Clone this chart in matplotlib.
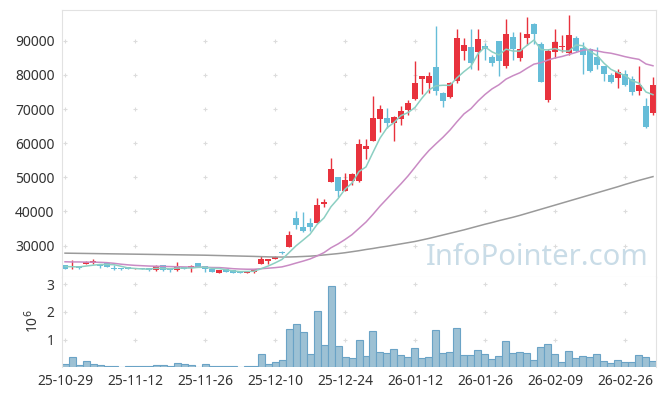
import numpy as np
import matplotlib
matplotlib.use("Agg")
import matplotlib.pyplot as plt

plt.rcParams['font.family'] = ['Noto Sans', 'DejaVu Sans']

# daily prices (85 trading days, 25-10-29 .. 26-03-05)
opens = [24200, 23800, 23900, 24650, 24850, 24650, 24850, 23300, 23300, 23650,
         23100, 23400, 23450, 22800, 24200, 23200, 22800, 23750, 23300, 24850,
         24060, 23200, 22100, 23000, 22800, 22600, 22100, 22400, 24640, 25400,
         26200, 28200, 29700, 38050, 35300, 36600, 36730, 42250, 48700, 50000,
         46100, 48900, 48900, 58350, 60700, 67200, 67400, 66000, 67000, 69700,
         72900, 78800, 77700, 82200, 74600, 73600, 78300, 87100, 88100, 86800,
         88450, 85300, 90000, 82700, 91200, 84850, 90900, 94900, 89050, 72650,
         86800, 88300, 86500, 90800, 87950, 87500, 85300, 82600, 79950, 79000,
         80250, 78700, 75400, 71000, 68950]
highs = [24300, 25800, 24000, 25400, 26200, 24700, 24900, 24400, 23400, 23700,
         23450, 23450, 23500, 24350, 24400, 23300, 25100, 23800, 24350, 25000,
         24100, 23250, 22950, 23050, 22850, 22650, 22600, 23200, 26990, 26100,
         27000, 28300, 34200, 40000, 39800, 38000, 44000, 43600, 55600, 50100,
         51200, 51200, 61300, 61150, 73800, 71200, 70200, 68000, 70800, 72500,
         84000, 79700, 80900, 94400, 75000, 77900, 93400, 90900, 93300, 93300,
         89200, 85800, 90000, 96250, 92650, 92650, 97000, 95100, 89700, 87500,
         93350, 91600, 97450, 91300, 89700, 87900, 88100, 82700, 80450, 81650,
         81400, 79700, 82600, 73150, 79300]
lows = [23000, 23100, 23200, 24600, 24550, 23560, 23800, 22700, 22850, 23050,
        23050, 23050, 22600, 22600, 22600, 22300, 22600, 23050, 22200, 23700,
        22200, 22350, 22050, 22350, 22050, 22050, 22050, 21900, 24600, 24700,
        26100, 27600, 29600, 35000, 34100, 34300, 36700, 41300, 48600, 44300,
        46000, 47750, 48650, 55300, 60500, 63200, 64400, 60500, 65400, 68300,
        72500, 74350, 74700, 74100, 70700, 73300, 77700, 84350, 81600, 81400,
        84350, 82600, 79750, 81900, 84350, 84150, 88750, 89150, 78000, 72150,
        84850, 86800, 85800, 86700, 80150, 80800, 81650, 78350, 77700, 76100,
        76700, 74150, 74100, 64350, 68250]
closes = [23100, 23950, 23300, 25300, 25600, 24150, 23850, 23100, 23000, 23100,
          23400, 23100, 22950, 24150, 22900, 22800, 24150, 23100, 24150, 23850,
          23100, 22400, 22900, 22400, 22100, 22100, 22550, 23180, 26100, 26000,
          26700, 27700, 33130, 36060, 34350, 35300, 41900, 42900, 52450, 46050,
          49200, 50950, 59800, 59200, 67400, 70000, 66000, 67600, 69400, 71700,
          77650, 79650, 79650, 75400, 72450, 77500, 90700, 88750, 83400, 90400,
          87650, 83550, 84150, 91950, 87600, 87600, 91950, 91950, 78000, 87000,
          89650, 88500, 91700, 87000, 85800, 81150, 82900, 80250, 78000, 80950,
          77050, 75100, 76950, 64850, 77050]
# volume in millions of shares
volumes = [0.11, 0.36, 0.085, 0.22, 0.11, 0.07, 0.04, 0.04, 0.01, 0.04,
           0.04, 0.04, 0.04, 0.07, 0.07, 0.04, 0.15, 0.11, 0.07, 0.01,
           0.11, 0.04, 0.04, 0.04, 0.04, 0.01, 0.04, 0.04, 0.47, 0.11,
           0.19, 0.27, 1.39, 1.57, 1.28, 0.47, 2.04, 0.80, 2.95, 0.77,
           0.36, 0.33, 0.98, 0.40, 1.31, 0.55, 0.51, 0.66, 0.44, 0.36,
           0.69, 0.33, 0.36, 1.35, 0.51, 0.55, 1.42, 0.44, 0.44, 0.62,
           0.47, 0.29, 0.40, 0.95, 0.51, 0.55, 0.51, 0.26, 0.73, 0.84,
           0.47, 0.18, 0.58, 0.33, 0.40, 0.36, 0.47, 0.22, 0.15, 0.26,
           0.18, 0.18, 0.44, 0.36, 0.22]
ma5 = [23850, 23800, 23750, 24000, 24250, 24460, 24440, 24400, 23940, 23440,
       23290, 23140, 23110, 23340, 23300, 23180, 23390, 23420, 23420, 23610,
       23670, 23320, 23280, 22930, 22580, 22380, 22410, 22470, 23210, 23990,
       24910, 25940, 27930, 29920, 31590, 33310, 36150, 38100, 41380, 43720,
       46500, 48310, 51690, 53040, 57310, 61470, 64480, 66040, 68080, 68940,
       70470, 73200, 75610, 76810, 76960, 76930, 79140, 80960, 82560, 86150,
       88180, 86750, 85830, 87540, 86980, 86970, 88650, 90210, 87420, 87300,
       87710, 87020, 86970, 88770, 88530, 86830, 85710, 83420, 81620, 80650,
       79830, 78270, 77610, 74980, 74200]
ma20 = [25250, 25200, 25200, 25150, 25150, 25100, 25000, 24800, 24550, 24350,
        24200, 24100, 24000, 23950, 23900, 23850, 23800, 23750, 23700, 23650,
        23650, 23570, 23550, 23410, 23230, 23130, 23070, 23070, 23220, 23370,
        23530, 23760, 24270, 24870, 25440, 26070, 26950, 27940, 29360, 30470,
        31770, 33200, 35050, 36890, 39150, 41550, 43720, 45940, 48100, 50390,
        52940, 55530, 57860, 59830, 61730, 63840, 66280, 68570, 70120, 72340,
        74260, 75890, 77110, 78750, 79760, 80640, 81940, 83150, 83580, 84350,
        84950, 85390, 85990, 86570, 87240, 87420, 87030, 86610, 86340, 85870,
        85340, 84910, 84550, 83200, 82670]
ma120 = [27780, 27750, 27720, 27690, 27660, 27630, 27600, 27570, 27540, 27510,
         27480, 27450, 27420, 27390, 27360, 27330, 27300, 27270, 27240, 27210,
         27180, 27130, 27080, 27030, 26980, 26930, 26880, 26830, 26760, 26700,
         26650, 26640, 26660, 26720, 26800, 26900, 27050, 27250, 27450, 27650,
         27900, 28200, 28500, 28850, 29150, 29500, 29800, 30150, 30500, 30850,
         31200, 31650, 32100, 32600, 33100, 33600, 34100, 34600, 35150, 35700,
         36250, 36750, 37300, 37800, 38300, 38850, 39450, 40050, 40650, 41250,
         41850, 42450, 43050, 43650, 44250, 44850, 45450, 46050, 46650, 47250,
         47900, 48500, 49100, 49650, 50200]
tick_labels = ['25-10-29', '25-11-12', '25-11-26', '25-12-10', '25-12-24',
               '26-01-12', '26-01-26', '26-02-09', '26-02-26']
price_ticks = [30000, 40000, 50000, 60000, 70000, 80000, 90000]
vol_ticks = [1, 2, 3]

RED = '#e8323d'
BLUE = '#66bdd8'
SPINE = '#e2e2e2'
GRID = '#dcdcdc'
TXT = '#333333'

fig = plt.figure(figsize=(6.65, 3.96), dpi=100)
ax = fig.add_axes([0.0925, 0.2997, 0.8947, 0.675])
axv = fig.add_axes([0.0925, 0.0725, 0.8947, 0.2272])

x = np.arange(len(closes))
o = np.array(opens)
c = np.array(closes)
colors = np.where(c >= o, RED, BLUE)

ax.text(0.986, 0.046, 'InfoPointer.com', transform=ax.transAxes, ha='right', va='baseline',
        fontsize=21, color='#c9dce7', zorder=0)

ax.vlines(x, lows, highs, colors=colors, linewidth=1.0, zorder=2)
ax.bar(x, np.maximum(np.abs(c - o), 300), bottom=np.minimum(o, c), width=0.72,
       color=colors, linewidth=0, zorder=2)

ax.plot(x, ma120, color='#9a9a9a', linewidth=1.1, zorder=3)
ax.plot(x, ma20, color='#c98bc4', linewidth=1.1, zorder=3)
ax.plot(x, ma5, color='#8ccfc2', linewidth=1.1, zorder=3)

# faint "+" marks where grid lines would cross
xt = np.arange(0, len(closes), 10)
gx, gy = np.meshgrid(xt, price_ticks)
ax.plot(gx.ravel(), gy.ravel(), '+', color=GRID, markersize=3.5, mew=0.8, zorder=1)

ax.set_xlim(-0.5, len(closes) - 0.5)
ax.set_ylim(20700, 99000)
ax.set_xticks([])
ax.set_yticks(price_ticks)
ax.set_yticklabels([str(v) for v in price_ticks])
ax.tick_params(axis='y', length=0, pad=5, labelsize=10, labelcolor=TXT)
for s in ax.spines.values():
    s.set_color(SPINE)

axv.bar(x, volumes, width=1.0, color='#9dc1d4', edgecolor='#6aa3c6', linewidth=0.8, zorder=2)
gx, gy = np.meshgrid(xt, vol_ticks)
axv.plot(gx.ravel(), gy.ravel(), '+', color=GRID, markersize=3.5, mew=0.8, zorder=1)
axv.set_xlim(-0.5, len(closes) - 0.5)
axv.set_ylim(0, 3.25)
axv.set_yticks(vol_ticks)
axv.set_yticklabels([str(v) for v in vol_ticks])
axv.set_xticks(xt)
axv.set_xticklabels(tick_labels)
axv.tick_params(length=0, pad=5, labelsize=10, labelcolor=TXT)
for s in axv.spines.values():
    s.set_color(SPINE)
axv.spines['top'].set_visible(False)
axv.spines['bottom'].set_visible(False)
fig.text(33 / 665, 1 - 321 / 396, r'10$^6$', rotation=90, ha='center', va='center',
         fontsize=10, color=TXT)

fig.savefig('out.png', dpi=100)
